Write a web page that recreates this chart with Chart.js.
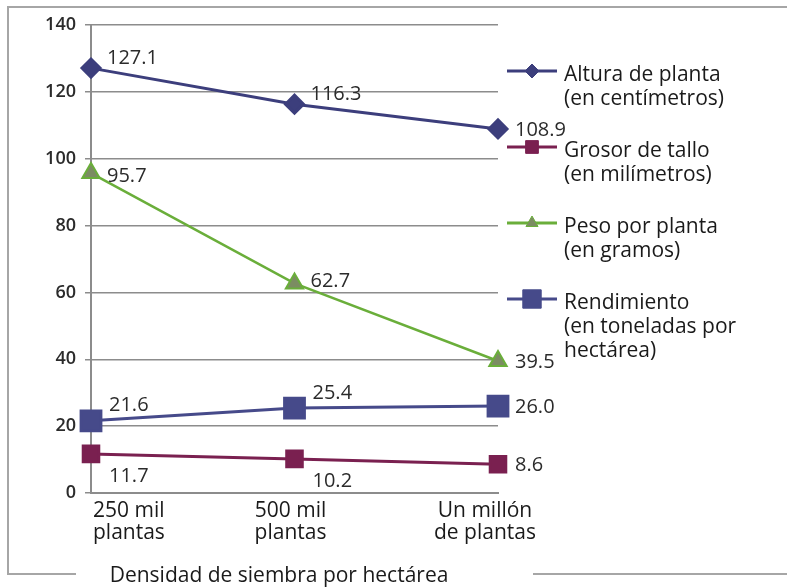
<!DOCTYPE html>
<html>
<head>
<meta charset="utf-8">
<script src="https://cdn.jsdelivr.net/npm/chart.js@4/dist/chart.umd.min.js"></script>
<style>
  body { margin: 0; background: #fff; }
  canvas { display: block; }
</style>
</head>
<body>
<canvas id="grafico" width="787" height="587"></canvas>
<script>
// datos
var categorias = [["250 mil", "plantas"], ["500 mil", "plantas"], ["Un millón", "de plantas"]];
var altura = [127.1, 116.3, 108.9];
var grosor = [11.7, 10.2, 8.6];
var peso = [95.7, 62.7, 39.5];
var rendimiento = [21.6, 25.4, 26.0];
var leyendas = [
    ["Altura de planta", "(en centímetros)"],
    ["Grosor de tallo", "(en milímetros)"],
    ["Peso por planta", "(en gramos)"],
    ["Rendimiento", "(en toneladas por", "hectárea)"]
];
var tituloX = "Densidad de siembra por hectárea";
var ticksY = [0, 20, 40, 60, 80, 100, 120, 140];

var fuente = '"Open Sans", sans-serif';

// desplazamiento de las etiquetas de valor [dx, dy] por serie (ultimo punto aparte)
var desplaz = [[16, -10], [18, 22], [16, 1], [18, -15]];
var tamLeyenda = [7, 9, 7, 13];
var ajusteX = [2, -4, -13];

var dibujos = {
    id: 'dibujos',
    afterDatasetsDraw: function (chart) {
        var ctx = chart.ctx;
        var area = chart.chartArea;
        var xs = chart.scales.x;
        ctx.save();
        ctx.font = '20px ' + fuente;
        ctx.fillStyle = '#2b2b2b';
        ctx.textBaseline = 'middle';
        ctx.textAlign = 'left';

        // etiquetas de valor
        chart.data.datasets.forEach(function (ds, i) {
            var meta = chart.getDatasetMeta(i);
            meta.data.forEach(function (p, j) {
                var d = desplaz[i];
                var dx = d[0], dy = d[1];
                if (j == meta.data.length - 1) { dx = 17; dy = 1; }
                if (i == 2 && j == 0) dy = 3;
                if (i == 2 && j == 1) dy = -2;
                ctx.fillText(ds.data[j].toFixed(1), p.x + dx, p.y + dy);
            });
        });

        // etiquetas del eje x
        ctx.font = '21px ' + fuente;
        ctx.fillStyle = '#1a1a1a';
        categorias.forEach(function (c, i) {
            var x = xs.getPixelForTick(i) + ajusteX[i];
            ctx.textAlign = i == 0 ? 'left' : 'center';
            ctx.fillText(c[0], x, area.bottom + 18);
            ctx.fillText(c[1], x, area.bottom + 40);
        });

        // titulo del eje x
        ctx.textAlign = 'center';
        ctx.fillText(tituloX, 279, 576);

        // marco exterior
        ctx.strokeStyle = '#a6a6a6';
        ctx.lineWidth = 2;
        ctx.beginPath();
        ctx.moveTo(787, 7);
        ctx.lineTo(8, 7);
        ctx.lineTo(8, 574);
        ctx.lineTo(76, 574);
        ctx.moveTo(533, 574);
        ctx.lineTo(787, 574);
        ctx.stroke();

        // leyenda
        var lx = area.right + 9;
        chart.data.datasets.forEach(function (ds, i) {
            var y = 71 + i * 76;
            ctx.strokeStyle = ds.borderColor;
            ctx.lineWidth = 3;
            ctx.beginPath();
            ctx.moveTo(lx, y);
            ctx.lineTo(lx + 50, y);
            ctx.stroke();
            ctx.fillStyle = ds.pointBackgroundColor;
            ctx.strokeStyle = ds.pointBorderColor;
            ctx.lineWidth = 1;
            Chart.helpers.drawPoint(ctx, {
                pointStyle: ds.pointStyle, radius: tamLeyenda[i], rotation: 0, borderWidth: 1
            }, lx + 25, y);
            ctx.fillStyle = '#1a1a1a';
            ctx.textAlign = 'left';
            leyendas[i].forEach(function (t, k) {
                ctx.fillText(t, lx + 57, y + 4 + k * 24);
            });
        });
        ctx.restore();
    }
};

var ctx = document.getElementById('grafico').getContext('2d');
var grafico = new Chart(ctx, {
    type: 'line',
    data: {
        labels: categorias,
        datasets: [{
            label: leyendas[0].join(' '),
            data: altura,
            borderColor: '#3c3e7c',
            backgroundColor: '#3c3e7c',
            pointBackgroundColor: '#3c3e7c',
            pointBorderColor: '#3c3e7c',
            pointStyle: 'rectRot',
            pointRadius: 9,
            borderWidth: 3
        }, {
            label: leyendas[1].join(' '),
            data: grosor,
            borderColor: '#7a2050',
            backgroundColor: '#7a2050',
            pointBackgroundColor: '#7a2050',
            pointBorderColor: '#7a2050',
            pointStyle: 'rect',
            pointRadius: 11,
            borderWidth: 3
        }, {
            label: leyendas[2].join(' '),
            data: peso,
            borderColor: '#6aae3a',
            backgroundColor: '#7b8c62',
            pointBackgroundColor: '#7b8c62',
            pointBorderColor: '#6aae3a',
            pointStyle: 'triangle',
            pointRadius: 10,
            pointBorderWidth: 2,
            borderWidth: 2.5
        }, {
            label: leyendas[3].join(' '),
            data: rendimiento,
            borderColor: '#464a8a',
            backgroundColor: '#464a8a',
            pointBackgroundColor: '#464a8a',
            pointBorderColor: '#464a8a',
            pointStyle: 'rect',
            pointRadius: 14,
            borderWidth: 3
        }]
    },
    options: {
        responsive: false,
        animation: false,
        events: [],
        layout: { padding: { left: 0, right: 289, top: 25, bottom: 94 } },
        plugins: { legend: { display: false }, tooltip: { enabled: false } },
        scales: {
            x: {
                offset: false,
                ticks: { display: false },
                grid: { display: false, drawTicks: false },
                border: { color: '#8c8c8c', width: 2 },
                afterFit: function (s) { s.height = 0; }
            },
            y: {
                min: 0,
                max: 140,
                afterBuildTicks: function (s) {
                    s.ticks = ticksY.map(function (v) { return { value: v }; });
                },
                ticks: {
                    color: '#2b2b2b',
                    font: { family: fuente, size: 18, weight: '600' },
                    padding: 9
                },
                grid: { color: '#8c8c8c', lineWidth: 1.5, tickLength: 6 },
                border: { color: '#8c8c8c', width: 2 },
                afterFit: function (s) { s.width = 91; }
            }
        }
    },
    plugins: [dibujos]
});
</script>
</body>
</html>
